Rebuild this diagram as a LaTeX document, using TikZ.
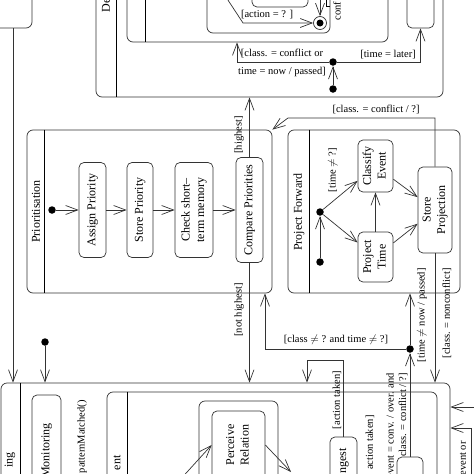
\documentclass[tikz,border=0pt]{standalone}
\usepackage{fontspec}
\setmainfont{Liberation Serif}
\usepackage{graphicx}
\usetikzlibrary{arrows.meta,calc}

\newcommand{\vtext}[1]{\rotatebox{90}{\begin{tabular}{@{}c@{}}#1\end{tabular}}}

\tikzset{
  state/.style={draw=black!80,rounded corners=5pt,inner sep=0pt,font=\fontsize{12}{14.5}\selectfont},
  compstate/.style={draw=black!80,rounded corners=6pt,inner sep=0pt},
  initdot/.style={circle,fill=black,inner sep=0pt,minimum size=7.5pt},
  finalstate/.style={circle,draw=black!80,inner sep=0pt,minimum size=13pt},
  trans/.style={draw=black!80,-{Straight Barb[length=12pt,width=9pt]}},
  guard/.style={font=\fontsize{10.5}{12.5}\selectfont,inner sep=0pt},
  vguard/.style={guard,rotate=90},
  compname/.style={font=\fontsize{12}{14}\selectfont,inner sep=0pt,rotate=90}
}

\begin{document}
\begin{tikzpicture}[x=1pt,y=-1pt,line width=0.7pt]
  \useasboundingbox (0,0) rectangle (474,474);
  \clip (0,0) rectangle (474,474);
  % top row
  \node[compstate,minimum width=72pt,minimum height=68pt] (topbox) at (-4,-6) {};
  \node[compstate,minimum width=347pt,minimum height=157pt] (decide) at (269.5,18.5) {};
  \draw ([xshift=21pt]decide.north west) -- ([xshift=21pt]decide.south west);
  \node[compname,anchor=west] (decname) at (106,13) {De};
  \node[compstate,minimum width=261pt,minimum height=102pt] (inner) at (257.5,-9) {};
  \draw ([xshift=19pt]inner.north west) -- ([xshift=19pt]inner.south west);
  \node[compstate,minimum width=123pt,minimum height=73pt] (actbox) at (268.5,-3.5) {};
  \node[state,minimum width=56pt,minimum height=47pt] (topstate) at (280,-16.5) {};
  \node[finalstate] (fin) at (320,23) {};
  \node[initdot,minimum size=7pt] (fincore) at (320,23) {};
  \node[state,minimum width=27pt,minimum height=68pt] (later) at (420.5,-6) {};
  \node[initdot] (dejunc) at (333,62) {};
  \node[initdot] (deinit) at (333,89) {};

  % prioritisation
  \node[compstate,minimum width=245pt,minimum height=163pt] (prio) at (149.5,211.5) {};
  \draw ([xshift=18pt]prio.north west) -- ([xshift=18pt]prio.south west);
  \node[compname] (prioname) at (36,211.5) {Prioritisation};
  \node[initdot] (prioinit) at (52,210) {};
  \node[state,minimum width=27pt,minimum height=95pt] (assign) at (92.5,210) {\vtext{Assign Priority}};
  \node[state,minimum width=26pt,minimum height=95pt] (storeprio) at (140,210) {\vtext{Store Priority}};
  \node[state,minimum width=38pt,minimum height=95pt] (checkmem) at (194,210) {\vtext{Check short--\\term memory}};
  \node[state,minimum width=27pt,minimum height=105pt] (compare) at (249.5,210) {\vtext{Compare Priorities}};

  % project forward
  \node[compstate,minimum width=172pt,minimum height=163pt] (projfwd) at (374,211.5) {};
  \draw ([xshift=22pt]projfwd.north west) -- ([xshift=22pt]projfwd.south west);
  \node[compname] (pfname) at (299,212) {Project Forward};
  \node[initdot] (pfinit) at (320,262) {};
  \node[initdot] (pfjunc) at (320,212) {};
  \node[state,minimum width=35pt,minimum height=52pt] (classify) at (375.5,166) {\vtext{Classify\\Event}};
  \node[state,minimum width=35pt,minimum height=50pt] (projtime) at (375.5,257) {\vtext{Project\\Time}};
  \node[state,minimum width=34pt,minimum height=86pt] (storeproj) at (435,210) {\vtext{Store\\Projection}};

  % bottom row
  \node[compstate,minimum width=449pt,minimum height=137pt] (monitor) at (225.5,451.5) {};
  \draw ([xshift=20pt]monitor.north west) -- ([xshift=20pt]monitor.south west);
  \node[compname,anchor=east] (monname) at (10,452) {ing};
  \node[initdot] (moninit) at (45,342) {};
  \node[state,minimum width=29pt,minimum height=111pt] (monstate) at (46.5,450.5) {\vtext{Monitoring}};
  \node[vguard,anchor=east] (patlbl) at (82,400) {patternMatched()};
  \node[compstate,minimum width=330pt,minimum height=128pt] (event) at (272,456) {};
  \draw ([xshift=21pt]event.north west) -- ([xshift=21pt]event.south west);
  \node[compname,anchor=east] (evname) at (117,455) {ent};
  \node[compstate,minimum width=79pt,minimum height=119pt] (percbox) at (238.5,460.5) {};
  \node[state,minimum width=53pt,minimum height=68pt] (perc) at (238.5,445) {\vtext{Perceive\\Relation}};
  \node[state,minimum width=27pt,minimum height=58pt] (ingest) at (343.5,466) {};
  \node[compname,anchor=east] (ingestname) at (344,448) {ngest};
  \node[state,minimum width=26pt,minimum height=66pt] (lowstate) at (410,490) {};
  \node[initdot] (junc) at (410,349) {};

  % helper points
  \coordinate (leftx) at (13,0);
  \coordinate (cbend) at (288,118);
  \coordinate (notx) at (265,0);
  \coordinate (actbend) at (307,360);
  \coordinate (rin1) at (480,407);
  \coordinate (rin2) at (471,480);
  \coordinate (rin2b) at (471,428);
  \coordinate (percin) at (178,482);
  \coordinate (percout) at (291,472);
  \coordinate (confx) at (237,0);
  \coordinate (actstart) at (224,-6);
  \coordinate (actbend2) at (243,23);
  \coordinate (fintop) at (320,-12);
  \coordinate (confl0) at (326,-6);
  \coordinate (confl1) at (326,6);

  % transitions
  \draw[trans] (topbox.south -| leftx) -- (leftx |- monitor.north);
  \draw[trans] (deinit) -- (dejunc);
  \draw[trans] (dejunc) -| (later.south);
  \draw[trans] (dejunc) -| (confx |- inner.south);
  \draw[trans] (actstart) -- (actbend2) -- (fin);
  \draw[trans] (fintop) -- (fin);
  \draw (confl0) -- (confl1) -- (confl1 -| actbox.east);
  \draw[trans] (compare.north) -- (compare.north |- decide.south);
  \draw[trans] (compare.south) -- (compare.south |- monitor.north);
  \draw[trans] (prioinit) -- (assign);
  \draw[trans] (assign) -- (storeprio);
  \draw[trans] (storeprio) -- (checkmem);
  \draw[trans] (checkmem) -- (compare);
  \draw[trans] (storeproj.north) |- (cbend) -- (prio.north east);
  \draw[trans] (storeproj.south) -- (storeproj.south |- monitor.north);
  \draw[trans] (pfinit) -- (pfjunc);
  \draw[trans] (pfjunc) -- (classify);
  \draw[trans] (pfjunc) -- (projtime);
  \draw[trans] (projtime) -- (classify);
  \draw[trans] (classify) -- (storeproj);
  \draw[trans] (projtime) -- (storeproj);
  \draw[trans] (junc) -- (junc |- projfwd.south);
  \draw[trans] (junc) -| (notx |- prio.south);
  \draw[trans] (lowstate.north) -- (junc);
  \draw[trans] (ingest.north) |- (actbend) -- (actbend |- monitor.north);
  \draw[trans] (moninit) -- (moninit |- monitor.north);
  \draw[trans] (rin1) -- (rin1 -| monitor.east);
  \draw[trans] (rin2) -- (rin2b) -- (rin2b -| monitor.east);
  \draw[trans] (percin) -- (perc.west);
  \draw[trans] (perc.east) -- (percout);

  % guards
  \node[guard] (lblact) at (267,15) {[action = ? ]};
  \node[guard,align=center] (lblconf) at (282,63) {[class. = conflict or\\[5pt]time = now / passed]};
  \node[guard] (lbllater) at (388,55) {[time = later]};
  \node[vguard,anchor=west] (lblconfl) at (337,21) {conf};
  \node[vguard] (lblhigh) at (239,135) {[highest]};
  \node[vguard,anchor=east] (lblnothigh) at (239,283) {[not highest]};
  \node[guard] (lblconfq) at (376,110) {[class. = conflict / ?]};
  \node[vguard] (lbltime) at (333,170) {[time $\neq$ ?]};
  \node[vguard,anchor=east] (lblpassed) at (422,268) {[time $\neq$ now / passed]};
  \node[vguard,anchor=east] (lblnonconf) at (447,268) {[class. = nonconflict]};
  \node[guard] (lblboth) at (336,340) {[class $\neq$ ? and time $\neq$ ?]};
  \node[vguard] (lbltaken) at (337,400) {[action taken]};
  \node[vguard,anchor=east] (lbltaken2) at (370,415) {action taken]};
  \node[vguard,anchor=east,align=right] (lblevent) at (397,373) {event = conv. / over. and\\class. = conflict / ?]};
  \node[vguard,anchor=east] (lblevor) at (463,441) {event or};
\end{tikzpicture}
\end{document}
